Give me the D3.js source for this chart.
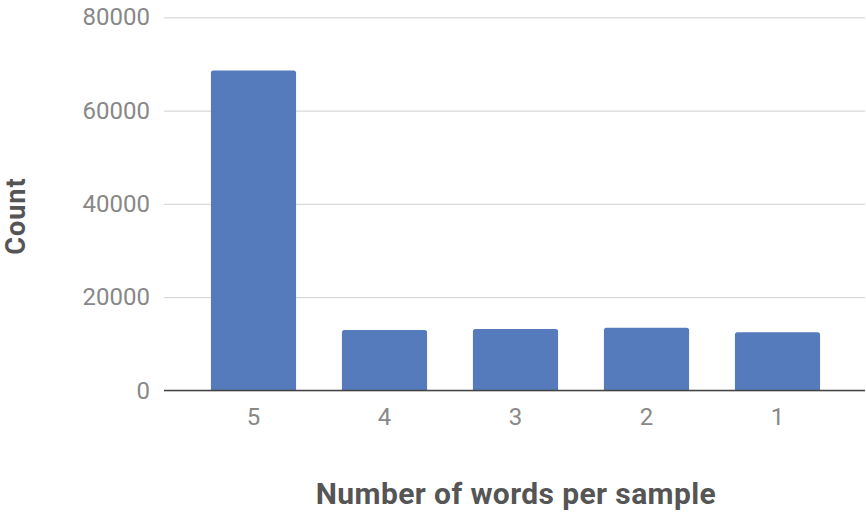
<!DOCTYPE html>
<html>
<head>
<meta charset="utf-8">
<script src="https://cdn.jsdelivr.net/npm/d3@7"></script>
<style>
  html, body { margin: 0; padding: 0; background: #fff; }
  svg { display: block; font-family: Roboto, "Noto Sans", Arial, sans-serif; }
</style>
</head>
<body>
<svg id="chart" width="866" height="516"></svg>
<script>
// Word-count distribution per sample
const categories = ["5", "4", "3", "2", "1"];
const counts = [68600, 12950, 13180, 13460, 12470];
const yTicks = [0, 20000, 40000, 60000, 80000];

const svg = d3.select("#chart");

const plot = { left: 164, right: 865, top: 17.3, bottom: 390.5 };

const x = d3.scaleBand()
  .domain(categories)
  .range([188, 843])
  .paddingInner(0.35)
  .paddingOuter(0.175);

const y = d3.scaleLinear()
  .domain([0, 80000])
  .range([plot.bottom, plot.top]);

// Horizontal gridlines with tick labels
const yAxis = d3.axisLeft(y)
  .tickValues(yTicks)
  .tickSize(-(plot.right - plot.left))
  .tickPadding(14)
  .tickFormat(d3.format("d"));

const gy = svg.append("g")
  .attr("transform", `translate(${plot.left},0)`)
  .call(yAxis);
gy.select(".domain").remove();
gy.selectAll(".tick line").attr("stroke", "#d9d9d9").attr("stroke-width", 1.2);
gy.selectAll(".tick text")
  .attr("fill", "#888")
  .attr("font-size", 24)
  .attr("font-family", "Roboto, sans-serif");

// Bars with slightly rounded top corners
const r = 2.5;
svg.append("g").selectAll("path")
  .data(categories.map((c, i) => ({ c, v: counts[i] })))
  .join("path")
  .attr("fill", "#557bbd")
  .attr("d", d => {
    const x0 = x(d.c), w = x.bandwidth(), y0 = y(d.v), y1 = y(0);
    return `M${x0},${y1}V${y0 + r}Q${x0},${y0} ${x0 + r},${y0}H${x0 + w - r}Q${x0 + w},${y0} ${x0 + w},${y0 + r}V${y1}Z`;
  });

// Baseline
svg.append("line")
  .attr("x1", plot.left).attr("x2", plot.right)
  .attr("y1", y(0)).attr("y2", y(0))
  .attr("stroke", "#444").attr("stroke-width", 1.5);

// Category axis labels
const xAxis = d3.axisBottom(x).tickSize(0).tickPadding(17);
const gx = svg.append("g")
  .attr("transform", `translate(0,${y(0)})`)
  .call(xAxis);
gx.select(".domain").remove();
gx.selectAll(".tick text")
  .attr("fill", "#888")
  .attr("font-size", 24)
  .attr("font-family", "Roboto, sans-serif");

// Axis titles
svg.append("text")
  .attr("x", 516)
  .attr("y", 504)
  .attr("text-anchor", "middle")
  .attr("fill", "#555")
  .attr("font-size", 30)
  .attr("letter-spacing", 0.4)
  .attr("font-weight", "bold")
  .text("Number of words per sample");

svg.append("text")
  .attr("transform", "translate(25,216) rotate(-90)")
  .attr("text-anchor", "middle")
  .attr("fill", "#555")
  .attr("font-size", 27)
  .attr("letter-spacing", 1)
  .attr("font-weight", "bold")
  .text("Count");
</script>
</body>
</html>
